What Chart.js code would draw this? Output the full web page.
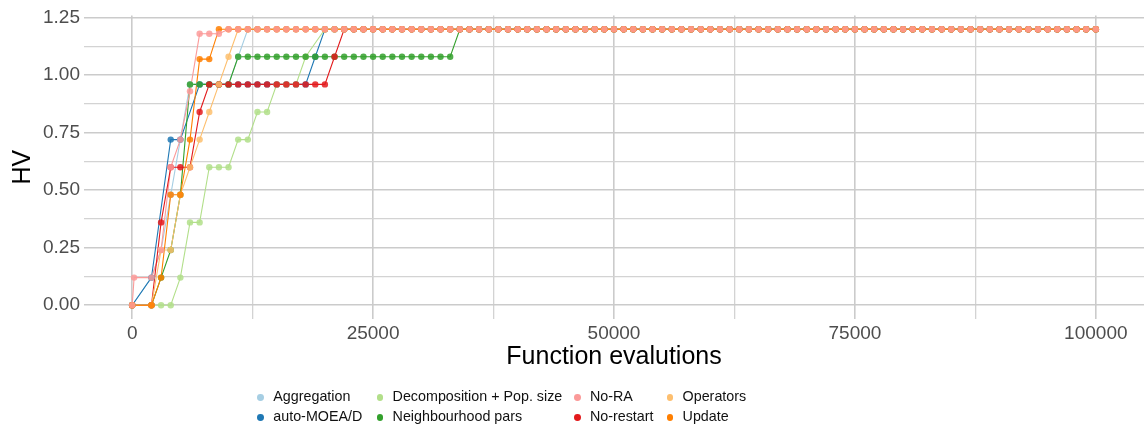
<!DOCTYPE html>
<html>
<head>
<meta charset="utf-8">
<script src="https://cdn.jsdelivr.net/npm/chart.js@4.4.1/dist/chart.umd.min.js"></script>
<style>
  html, body { margin: 0; padding: 0; background: #fff; }
  #wrap { position: relative; width: 1148px; height: 430px; overflow: hidden; }
  #chart { position: absolute; left: 0; top: 0; }
  .item { position: absolute; height: 20px; line-height: 20px; white-space: nowrap;
          font: 14.3px 'Liberation Sans', Arial, sans-serif; color: #111; }
  .dot { position: absolute; top: 6.6px; width: 6.8px; height: 6.8px; border-radius: 50%; }
</style>
</head>
<body>
<div id="wrap">
  <canvas id="chart" width="1148" height="430"></canvas>
  <div id="legend"></div>
</div>
<script>
// function evaluations (x); second entry is the early No-RA sample
const evals = [
  0, 200, 2000, 3000, 4000, 5000, 6000, 7000, 8000, 9000,
  10000, 11000, 12000, 13000, 14000, 15000, 16000, 17000, 18000, 19000,
  20000, 21000, 22000, 23000, 24000, 25000, 26000, 27000, 28000, 29000,
  30000, 31000, 32000, 33000, 34000, 35000, 36000, 37000, 38000, 39000,
  40000, 41000, 42000, 43000, 44000, 45000, 46000, 47000, 48000, 49000,
  50000, 51000, 52000, 53000, 54000, 55000, 56000, 57000, 58000, 59000,
  60000, 61000, 62000, 63000, 64000, 65000, 66000, 67000, 68000, 69000,
  70000, 71000, 72000, 73000, 74000, 75000, 76000, 77000, 78000, 79000,
  80000, 81000, 82000, 83000, 84000, 85000, 86000, 87000, 88000, 89000,
  90000, 91000, 92000, 93000, 94000, 95000, 96000, 97000, 98000, 99000,
  100000
];

const seriesNames = ['Aggregation', 'auto-MOEA/D', 'Decomposition + Pop. size', 'Neighbourhood pars',
                     'No-RA', 'No-restart', 'Operators', 'Update'];
const seriesColors = ['#a6cee3', '#1f78b4', '#b2df8a', '#33a02c', '#fb9a99', '#e31a1c', '#fdbf6f', '#ff7f00'];

const aggregation = [
  0, null, 0.12, 0.24, 0.48, 0.72, 0.96, 0.96, 0.96, 0.96,
  0.96, 1.08, 1.2, 1.2, 1.2, 1.2, 1.2, 1.2, 1.2, 1.2,
  1.2, 1.2, 1.2, 1.2, 1.2, 1.2, 1.2, 1.2, 1.2, 1.2,
  1.2, 1.2, 1.2, 1.2, 1.2, 1.2, 1.2, 1.2, 1.2, 1.2,
  1.2, 1.2, 1.2, 1.2, 1.2, 1.2, 1.2, 1.2, 1.2, 1.2,
  1.2, 1.2, 1.2, 1.2, 1.2, 1.2, 1.2, 1.2, 1.2, 1.2,
  1.2, 1.2, 1.2, 1.2, 1.2, 1.2, 1.2, 1.2, 1.2, 1.2,
  1.2, 1.2, 1.2, 1.2, 1.2, 1.2, 1.2, 1.2, 1.2, 1.2,
  1.2, 1.2, 1.2, 1.2, 1.2, 1.2, 1.2, 1.2, 1.2, 1.2,
  1.2, 1.2, 1.2, 1.2, 1.2, 1.2, 1.2, 1.2, 1.2, 1.2,
  1.2
];
const autoMoead = [
  0, null, 0.12, null, 0.72, 0.72, null, 0.96, 0.96, 0.96,
  0.96, 0.96, 0.96, 0.96, 0.96, 0.96, 0.96, 0.96, 0.96, 1.08,
  1.2, 1.2, 1.2, 1.2, 1.2, 1.2, 1.2, 1.2, 1.2, 1.2,
  1.2, 1.2, 1.2, 1.2, 1.2, 1.2, 1.2, 1.2, 1.2, 1.2,
  1.2, 1.2, 1.2, 1.2, 1.2, 1.2, 1.2, 1.2, 1.2, 1.2,
  1.2, 1.2, 1.2, 1.2, 1.2, 1.2, 1.2, 1.2, 1.2, 1.2,
  1.2, 1.2, 1.2, 1.2, 1.2, 1.2, 1.2, 1.2, 1.2, 1.2,
  1.2, 1.2, 1.2, 1.2, 1.2, 1.2, 1.2, 1.2, 1.2, 1.2,
  1.2, 1.2, 1.2, 1.2, 1.2, 1.2, 1.2, 1.2, 1.2, 1.2,
  1.2, 1.2, 1.2, 1.2, 1.2, 1.2, 1.2, 1.2, 1.2, 1.2,
  1.2
];
const decomposition = [
  0, null, 0, 0, 0, 0.12, 0.36, 0.36, 0.6, 0.6,
  0.6, 0.72, 0.72, 0.84, 0.84, 0.96, 0.96, 0.96, 1.08, null,
  1.2, 1.2, 1.2, 1.2, 1.2, 1.2, 1.2, 1.2, 1.2, 1.2,
  1.2, 1.2, 1.2, 1.2, 1.2, 1.2, 1.2, 1.2, 1.2, 1.2,
  1.2, 1.2, 1.2, 1.2, 1.2, 1.2, 1.2, 1.2, 1.2, 1.2,
  1.2, 1.2, 1.2, 1.2, 1.2, 1.2, 1.2, 1.2, 1.2, 1.2,
  1.2, 1.2, 1.2, 1.2, 1.2, 1.2, 1.2, 1.2, 1.2, 1.2,
  1.2, 1.2, 1.2, 1.2, 1.2, 1.2, 1.2, 1.2, 1.2, 1.2,
  1.2, 1.2, 1.2, 1.2, 1.2, 1.2, 1.2, 1.2, 1.2, 1.2,
  1.2, 1.2, 1.2, 1.2, 1.2, 1.2, 1.2, 1.2, 1.2, 1.2,
  1.2
];
const neighbourhood = [
  0, null, 0, 0.12, 0.24, 0.48, 0.96, 0.96, 0.96, 0.96,
  0.96, 1.08, 1.08, 1.08, 1.08, 1.08, 1.08, 1.08, 1.08, 1.08,
  1.08, 1.08, 1.08, 1.08, 1.08, 1.08, 1.08, 1.08, 1.08, 1.08,
  1.08, 1.08, 1.08, 1.08, 1.2, 1.2, 1.2, 1.2, 1.2, 1.2,
  1.2, 1.2, 1.2, 1.2, 1.2, 1.2, 1.2, 1.2, 1.2, 1.2,
  1.2, 1.2, 1.2, 1.2, 1.2, 1.2, 1.2, 1.2, 1.2, 1.2,
  1.2, 1.2, 1.2, 1.2, 1.2, 1.2, 1.2, 1.2, 1.2, 1.2,
  1.2, 1.2, 1.2, 1.2, 1.2, 1.2, 1.2, 1.2, 1.2, 1.2,
  1.2, 1.2, 1.2, 1.2, 1.2, 1.2, 1.2, 1.2, 1.2, 1.2,
  1.2, 1.2, 1.2, 1.2, 1.2, 1.2, 1.2, 1.2, 1.2, 1.2,
  1.2
];
const noRa = [
  0, 0.12, 0.12, 0.24, 0.6, 0.72, 0.93, 1.18, 1.18, 1.18,
  1.2, 1.2, 1.2, 1.2, 1.2, 1.2, 1.2, 1.2, 1.2, 1.2,
  1.2, 1.2, 1.2, 1.2, 1.2, 1.2, 1.2, 1.2, 1.2, 1.2,
  1.2, 1.2, 1.2, 1.2, 1.2, 1.2, 1.2, 1.2, 1.2, 1.2,
  1.2, 1.2, 1.2, 1.2, 1.2, 1.2, 1.2, 1.2, 1.2, 1.2,
  1.2, 1.2, 1.2, 1.2, 1.2, 1.2, 1.2, 1.2, 1.2, 1.2,
  1.2, 1.2, 1.2, 1.2, 1.2, 1.2, 1.2, 1.2, 1.2, 1.2,
  1.2, 1.2, 1.2, 1.2, 1.2, 1.2, 1.2, 1.2, 1.2, 1.2,
  1.2, 1.2, 1.2, 1.2, 1.2, 1.2, 1.2, 1.2, 1.2, 1.2,
  1.2, 1.2, 1.2, 1.2, 1.2, 1.2, 1.2, 1.2, 1.2, 1.2,
  1.2
];
const noRestart = [
  0, null, 0, 0.36, 0.6, 0.6, 0.6, 0.84, 0.96, 0.96,
  0.96, 0.96, 0.96, 0.96, 0.96, 0.96, 0.96, 0.96, 0.96, 0.96,
  0.96, 1.08, 1.2, 1.2, 1.2, 1.2, 1.2, 1.2, 1.2, 1.2,
  1.2, 1.2, 1.2, 1.2, 1.2, 1.2, 1.2, 1.2, 1.2, 1.2,
  1.2, 1.2, 1.2, 1.2, 1.2, 1.2, 1.2, 1.2, 1.2, 1.2,
  1.2, 1.2, 1.2, 1.2, 1.2, 1.2, 1.2, 1.2, 1.2, 1.2,
  1.2, 1.2, 1.2, 1.2, 1.2, 1.2, 1.2, 1.2, 1.2, 1.2,
  1.2, 1.2, 1.2, 1.2, 1.2, 1.2, 1.2, 1.2, 1.2, 1.2,
  1.2, 1.2, 1.2, 1.2, 1.2, 1.2, 1.2, 1.2, 1.2, 1.2,
  1.2, 1.2, 1.2, 1.2, 1.2, 1.2, 1.2, 1.2, 1.2, 1.2,
  1.2
];
const operators = [
  0, null, 0, 0.24, 0.24, 0.48, 0.6, 0.72, 0.84, 0.96,
  1.08, 1.2, 1.2, 1.2, 1.2, 1.2, 1.2, 1.2, 1.2, 1.2,
  1.2, 1.2, 1.2, 1.2, 1.2, 1.2, 1.2, 1.2, 1.2, 1.2,
  1.2, 1.2, 1.2, 1.2, 1.2, 1.2, 1.2, 1.2, 1.2, 1.2,
  1.2, 1.2, 1.2, 1.2, 1.2, 1.2, 1.2, 1.2, 1.2, 1.2,
  1.2, 1.2, 1.2, 1.2, 1.2, 1.2, 1.2, 1.2, 1.2, 1.2,
  1.2, 1.2, 1.2, 1.2, 1.2, 1.2, 1.2, 1.2, 1.2, 1.2,
  1.2, 1.2, 1.2, 1.2, 1.2, 1.2, 1.2, 1.2, 1.2, 1.2,
  1.2, 1.2, 1.2, 1.2, 1.2, 1.2, 1.2, 1.2, 1.2, 1.2,
  1.2, 1.2, 1.2, 1.2, 1.2, 1.2, 1.2, 1.2, 1.2, 1.2,
  1.2
];
const update = [
  0, null, 0, 0.12, 0.48, 0.48, 0.72, 1.07, 1.07, 1.2,
  1.2, 1.2, 1.2, 1.2, 1.2, 1.2, 1.2, 1.2, 1.2, 1.2,
  1.2, 1.2, 1.2, 1.2, 1.2, 1.2, 1.2, 1.2, 1.2, 1.2,
  1.2, 1.2, 1.2, 1.2, 1.2, 1.2, 1.2, 1.2, 1.2, 1.2,
  1.2, 1.2, 1.2, 1.2, 1.2, 1.2, 1.2, 1.2, 1.2, 1.2,
  1.2, 1.2, 1.2, 1.2, 1.2, 1.2, 1.2, 1.2, 1.2, 1.2,
  1.2, 1.2, 1.2, 1.2, 1.2, 1.2, 1.2, 1.2, 1.2, 1.2,
  1.2, 1.2, 1.2, 1.2, 1.2, 1.2, 1.2, 1.2, 1.2, 1.2,
  1.2, 1.2, 1.2, 1.2, 1.2, 1.2, 1.2, 1.2, 1.2, 1.2,
  1.2, 1.2, 1.2, 1.2, 1.2, 1.2, 1.2, 1.2, 1.2, 1.2,
  1.2
];

const xTicks = [0, 12500, 25000, 37500, 50000, 62500, 75000, 87500, 100000];
const xLabels = [0, 25000, 50000, 75000, 100000];
const yTicks = [0, 0.125, 0.25, 0.375, 0.5, 0.625, 0.75, 0.875, 1, 1.125, 1.25];
const yLabels = [0, 0.25, 0.5, 0.75, 1, 1.25];

const hv = [aggregation, autoMoead, decomposition, neighbourhood, noRa, noRestart, operators, update];
// z-rank of the points (0 = drawn last / on top)
const pointRank = [7, 6, 5, 4, 0, 3, 2, 1];

const FONT = "'Liberation Sans', Arial, sans-serif";

function toXY(ys) {
    return evals.map((x, i) => ({ x: x, y: ys[i] }));
}

function withAlpha(hex, a) {
    const n = parseInt(hex.slice(1), 16);
    return `rgba(${n >> 16}, ${(n >> 8) & 255}, ${n & 255}, ${a})`;
}

const datasets = [];
hv.forEach((ys, i) => {
    // lines first, in legend order (Update on top)
    datasets.push({
        label: seriesNames[i],
        data: toXY(ys),
        borderColor: seriesColors[i],
        borderWidth: 1.1,
        pointRadius: 0,
        spanGaps: true,
        order: 100 + (hv.length - 1 - i)
    });
});
hv.forEach((ys, i) => {
    datasets.push({
        label: seriesNames[i] + ' pts',
        data: toXY(ys),
        showLine: false,
        pointRadius: 3.2,
        pointBorderWidth: 0,
        backgroundColor: withAlpha(seriesColors[i], 0.85),
        borderColor: 'rgba(0,0,0,0)',
        order: pointRank[i]
    });
});

const gridMajor = '#cbcbcb';
const gridMinor = '#d3d3d3';

new Chart(document.getElementById('chart'), {
    type: 'line',
    data: { datasets: datasets },
    options: {
        responsive: false,
        animation: false,
        events: [],
        layout: { padding: { top: 14, right: 1, bottom: 57, left: 0 } },
        plugins: { legend: { display: false }, tooltip: { enabled: false } },
        scales: {
            x: {
                type: 'linear',
                min: -5000,
                max: 105000,
                afterBuildTicks: s => { s.ticks = xTicks.map(v => ({ value: v })); },
                afterFit: s => { s.height = 54; },
                border: { display: false },
                grid: {
                    drawTicks: false,
                    color: c => xLabels.includes(c.tick.value) ? gridMajor : gridMinor,
                    lineWidth: c => xLabels.includes(c.tick.value) ? 1.6 : 1.3
                },
                ticks: {
                    autoSkip: false,
                    maxRotation: 0,
                    padding: 3,
                    color: '#4d4d4d',
                    font: { family: FONT, size: 19 },
                    callback: v => xLabels.includes(v) ? String(v) : ''
                },
                title: {
                    display: true,
                    text: 'Function evalutions',
                    color: '#000',
                    font: { family: FONT, size: 25 },
                    padding: { top: 0, bottom: 1 }
                }
            },
            y: {
                type: 'linear',
                min: -0.06,
                max: 1.26,
                afterBuildTicks: s => { s.ticks = yTicks.map(v => ({ value: v })); },
                afterFit: s => { s.width = 84; },
                border: { display: false },
                grid: {
                    drawTicks: false,
                    color: c => yLabels.includes(c.tick.value) ? gridMajor : gridMinor,
                    lineWidth: c => yLabels.includes(c.tick.value) ? 1.6 : 1.3
                },
                ticks: {
                    autoSkip: false,
                    padding: 4,
                    color: '#4d4d4d',
                    font: { family: FONT, size: 19 },
                    callback: v => yLabels.includes(v) ? v.toFixed(2) : ''
                },
                title: {
                    display: true,
                    text: 'HV',
                    color: '#000',
                    font: { family: FONT, size: 25 },
                    padding: { top: 8, bottom: 0 }
                }
            }
        }
    }
});

// legend: 4 columns x 2 rows, filled column by column
const legendColX = [260.7, 380, 577.3, 670];
const legendRowY = [397.5, 417.5];
const legend = document.getElementById('legend');
seriesNames.forEach((name, i) => {
    const col = Math.floor(i / 2), row = i % 2;
    const item = document.createElement('div');
    item.className = 'item';
    item.style.left = (legendColX[col] - 3.4) + 'px';
    item.style.top = (legendRowY[row] - 10) + 'px';
    item.style.paddingLeft = '16px';
    const dot = document.createElement('span');
    dot.className = 'dot';
    dot.style.left = '0px';
    dot.style.background = seriesColors[i];
    item.appendChild(dot);
    item.appendChild(document.createTextNode(name));
    legend.appendChild(item);
});
</script>
</body>
</html>
